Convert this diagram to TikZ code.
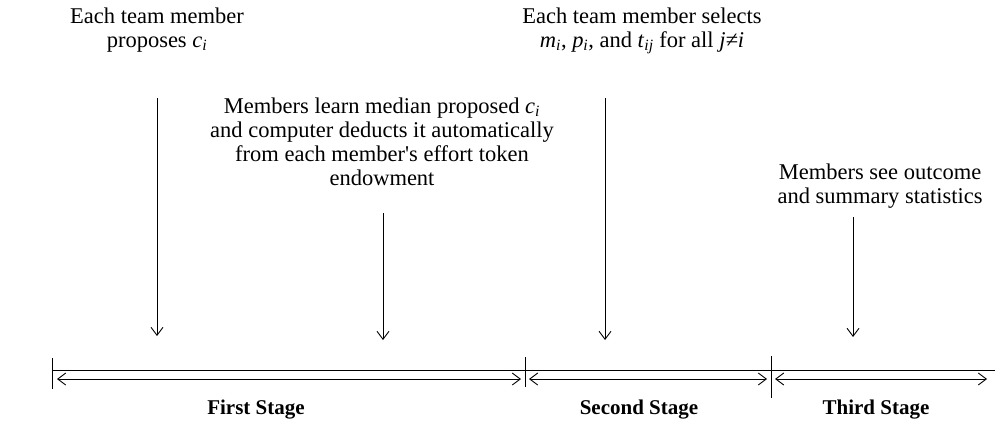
\documentclass[tikz,border=0pt]{standalone}
\usepackage{fontspec}
\setmainfont{Liberation Serif}
\usetikzlibrary{arrows.meta}
\tikzset{note/.style = {align=center, anchor=base, inner sep=0pt, font=\fontsize{22.5}{24}\selectfont}}
\tikzset{stage/.style = {note, font=\fontsize{21}{24}\selectfont\bfseries}}
\tikzset{divider/.style = {line width=1pt}}
\newcommand{\vsub}[2]{\textit{#1}\textsubscript{\textit{#2}}}

\begin{document}
\begin{tikzpicture}[x=1pt, y=-1pt, >={Straight Barb[length=8pt, width=12pt]}, line width=0.9pt]
  \useasboundingbox (0,0) rectangle (995,421);
  % texts above the time line
  \node [note] (propose) at (157,47) {Each team member\\proposes \vsub{c}{i}};
  \node [note] (select) at (642,47) {Each team member selects\\\vsub{m}{i}, \vsub{p}{i}, and \vsub{t}{ij} for all \textit{j}\textit{≠}\textit{i}};
  \node [note] (median) at (382,185) {Members learn median proposed \vsub{c}{i}\\and computer deducts it automatically\\from each member\textquotesingle s effort token\\endowment};
  \node [note] (outcome) at (880,203) {Members see outcome\\and summary statistics};

  % stage names
  \node [stage] (first) at (256,414) {First Stage};
  \node [stage] (second) at (639,414) {Second Stage};
  \node [stage] (third) at (876,414) {Third Stage};

  % down arrows
  \coordinate (p1) at (157,98);  \coordinate (q1) at (157,336);
  \coordinate (p2) at (383,213); \coordinate (q2) at (383,340);
  \coordinate (p3) at (605,98);  \coordinate (q3) at (605,340);
  \coordinate (p4) at (853,217); \coordinate (q4) at (853,337);
  \path[->] (p1) edge (q1);
  \path[->] (p2) edge (q2);
  \path[->] (p3) edge (q3);
  \path[->] (p4) edge (q4);

  % time line
  \coordinate (start) at (52,370);
  \coordinate (finish) at (995,370);
  \path (start) edge (finish);
  \coordinate (d1t) at (52,358);  \coordinate (d1b) at (52,389);
  \coordinate (d2t) at (525,357); \coordinate (d2b) at (525,387);
  \coordinate (d3t) at (771,356); \coordinate (d3b) at (771,398);
  \path[divider] (d1t) edge (d1b);
  \path[divider] (d2t) edge (d2b);
  \path[divider] (d3t) edge (d3b);

  % stage spans
  \coordinate (s1l) at (57,379);  \coordinate (s1r) at (521,379);
  \coordinate (s2l) at (529,379); \coordinate (s2r) at (767,379);
  \coordinate (s3l) at (775,379); \coordinate (s3r) at (987,379);
  \path[<->] (s1l) edge (s1r);
  \path[<->] (s2l) edge (s2r);
  \path[<->] (s3l) edge (s3r);
\end{tikzpicture}
\end{document}
